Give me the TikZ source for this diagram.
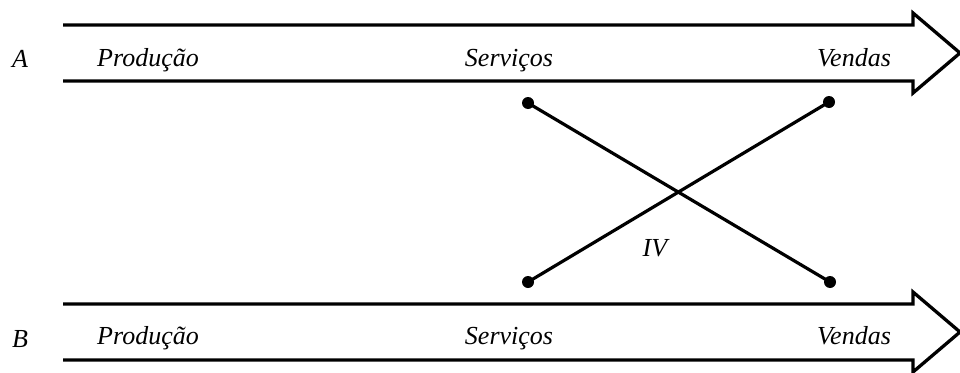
\documentclass[tikz,border=0pt]{standalone}
\usepackage{fontspec}
\setmainfont{Liberation Serif}
\begin{document}
\begin{tikzpicture}[x=1pt,y=-1pt,
  bigarrow/.style={line width=3.3pt,line join=miter},
  lbl/.style={font=\itshape\fontsize{26}{30}\selectfont,inner sep=0pt,anchor=base},
  dot/.style={circle,fill=black,inner sep=0pt,minimum size=12pt},
  cross/.style={line width=3.2pt}]
\useasboundingbox (0,0) rectangle (960,372);
% Arrow A
\draw[bigarrow] (63,25) -- (913,25) -- (913,13) -- (960,53) -- (913,93) -- (913,81) -- (63,81);
% Arrow B
\draw[bigarrow] (63,304) -- (913,304) -- (913,292) -- (960,332) -- (913,372) -- (913,360) -- (63,360);
% labels A
\node[lbl] (la) at (20,67) {A};
\node[lbl] (pa) at (148,66) {Produção};
\node[lbl] (sa) at (509,66) {Serviços};
\node[lbl] (va) at (854,66) {Vendas};
% labels B
\node[lbl] (lb) at (20,347) {B};
\node[lbl] (pb) at (148,344) {Produção};
\node[lbl] (sb) at (509,344) {Serviços};
\node[lbl] (vb) at (854,344) {Vendas};
% crossing
\node[dot] (d1) at (528,103) {};
\node[dot] (d2) at (829,102) {};
\node[dot] (d3) at (528,282) {};
\node[dot] (d4) at (830,282) {};
\draw[cross] (d1.center) -- (d4.center);
\draw[cross] (d2.center) -- (d3.center);
\node[lbl] (iv) at (655,256) {IV};
\end{tikzpicture}
\end{document}
